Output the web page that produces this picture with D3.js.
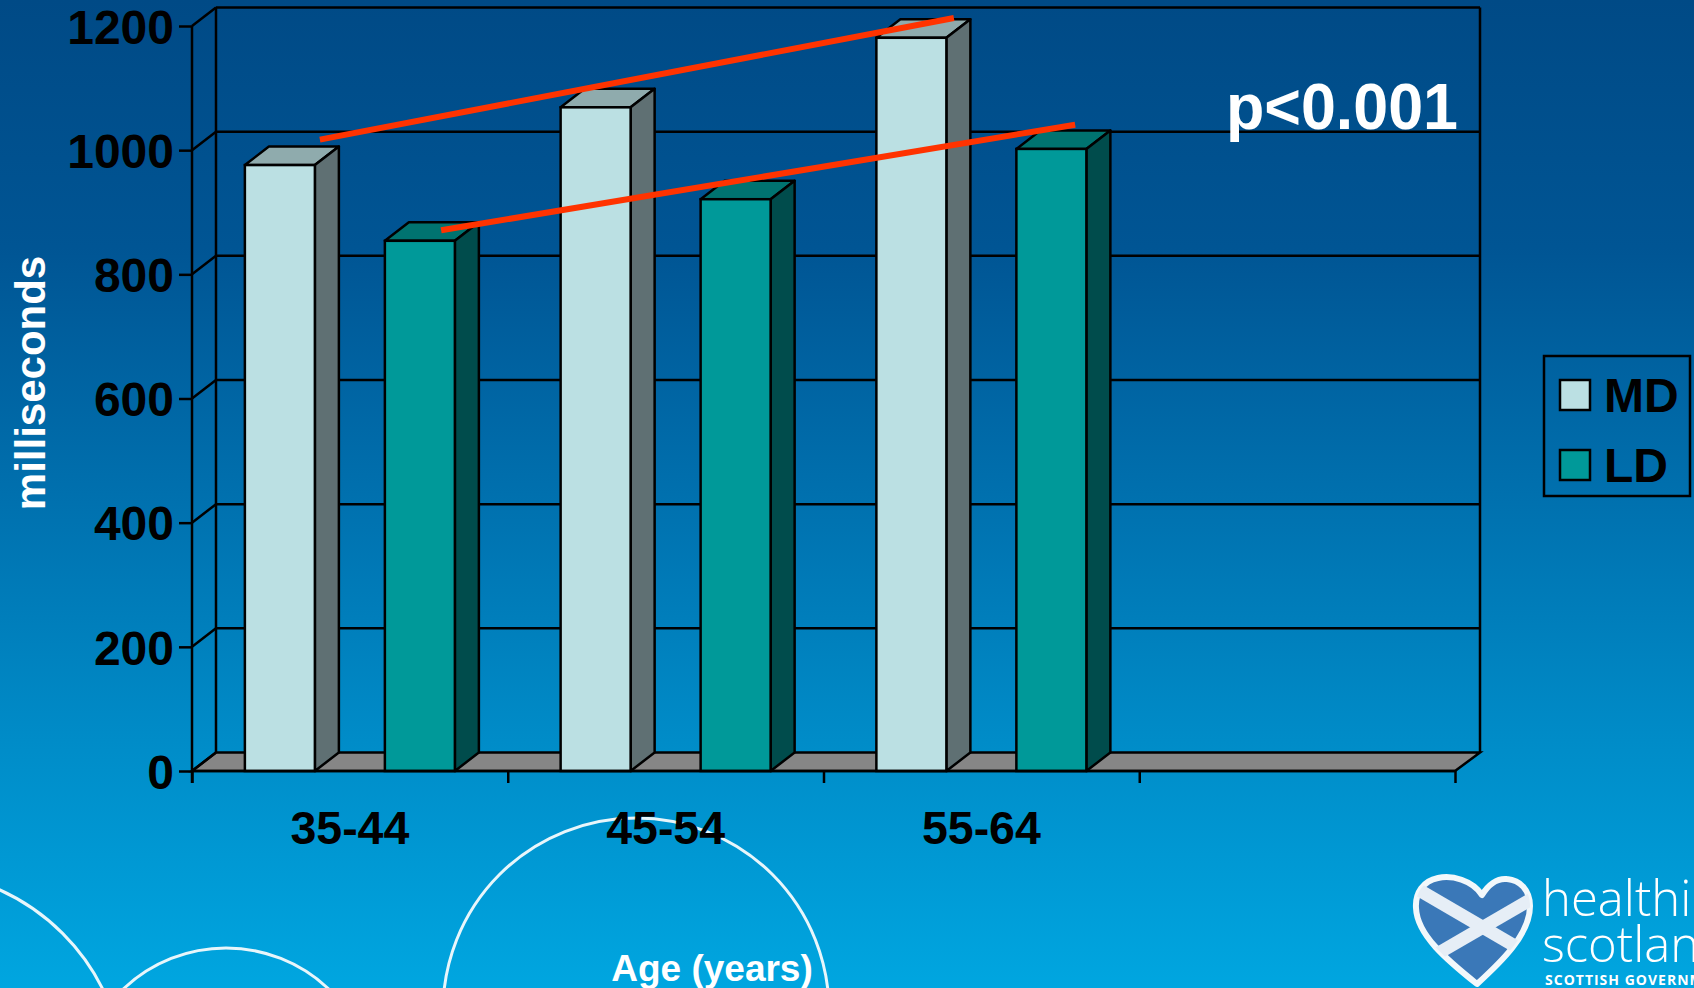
<!DOCTYPE html>
<html><head><meta charset="utf-8">
<script src="https://cdn.jsdelivr.net/npm/d3@7/dist/d3.min.js"></script>
<style>html,body{margin:0;padding:0;overflow:hidden;background:#0070ae}svg{display:block}
text{font-family:"Liberation Sans",Arial,sans-serif;font-weight:700}</style></head>
<body><svg id="c" width="1694" height="988"></svg>
<script>
const categories = ["35-44","45-54","55-64",""];
const seriesNames = ["MD","LD"];
const mdValues = [976,1069,1181];
const ldValues = [854,921,1002];
const yTicks = [0,200,400,600,800,1000,1200];
const trendMD = [[0.405,1017],[2.413,1213]];   // [category position, ms]
const trendLD = [[0.789,871],[2.797,1041]];
const bgStops = [[0,"#004a86"],[0.25,"#005594"],[0.5,"#0070ae"],[0.75,"#008cc8"],[1,"#00a6e0"]];
const seriesColors = {MD:{front:"#bbe0e3",top:"#8fabad",side:"#5f7073"},LD:{front:"#009999",top:"#007370",side:"#004c4c"}};

const W=1694,H=988,svg=d3.select("#c");
const dx=24,dy=18.5,x0=192,x1=1455,yBase=771,yTop=26;
const y=d3.scaleLinear().domain([0,1200]).range([yBase,yTop]);
const xBand=d3.scaleBand().domain(categories).range([x0,x1]);
const xPos=d3.scaleLinear().domain([0,categories.length]).range([x0,x1]);
const xSeries=d3.scaleBand().domain(seriesNames).range([0,xBand.bandwidth()]).paddingInner(.5).paddingOuter(.3777);
const SW=2.5;

// background
const defs=svg.append("defs");
const g=defs.append("linearGradient").attr("id","bg").attr("x1",0).attr("x2",0).attr("y1",0).attr("y2",1);
bgStops.forEach(s=>g.append("stop").attr("offset",s[0]).attr("stop-color",s[1]));
svg.append("rect").attr("width",W).attr("height",H).attr("fill","url(#bg)");

// decorative circles
[[636,1011,193],[226,1097,149],[-88,1084,213]].forEach(c=>svg.append("circle")
  .attr("cx",c[0]).attr("cy",c[1]).attr("r",c[2]).attr("fill","none").attr("stroke","#e8f6fb").attr("stroke-width",3));

// 3D frame
const line=(a,b,c,d,w=SW)=>svg.append("line").attr("x1",a).attr("y1",b).attr("x2",c).attr("y2",d).attr("stroke","#000").attr("stroke-width",w);
svg.append("path").attr("d",`M${x0},${yBase}L${x0+dx},${yBase-dy}L${x1+dx+1},${yBase-dy}L${x1},${yBase}Z`)
  .attr("fill","#868686").attr("stroke","#000").attr("stroke-width",SW);
yTicks.forEach(t=>{
  line(x0,y(t),x0+dx,y(t)-dy);
  if(t>0) line(x0+dx,y(t)-dy,x1+dx+1,y(t)-dy);
});
line(x0+dx,yTop-dy,x0+dx,yBase-dy);
line(x1+dx+1,yTop-dy,x1+dx+1,yBase-dy);

// bars
const rows=[];
categories.slice(0,3).forEach((c,i)=>{
  rows.push({c,s:"MD",v:mdValues[i]});
  rows.push({c,s:"LD",v:ldValues[i]});
});
const bars=svg.selectAll("g.bar").data(rows).enter().append("g").attr("class","bar");
const bw=xSeries.bandwidth();
const X=d=>xBand(d.c)+xSeries(d.s);
bars.append("path").attr("d",d=>`M${X(d)},${y(d.v)}L${X(d)+dx},${y(d.v)-dy}L${X(d)+bw+dx},${y(d.v)-dy}L${X(d)+bw},${y(d.v)}Z`)
  .attr("fill",d=>seriesColors[d.s].top).attr("stroke","#000").attr("stroke-width",SW).attr("stroke-linejoin","round");
bars.append("path").attr("d",d=>`M${X(d)+bw},${y(d.v)}L${X(d)+bw+dx},${y(d.v)-dy}L${X(d)+bw+dx},${y(0)-dy}L${X(d)+bw},${y(0)}Z`)
  .attr("fill",d=>seriesColors[d.s].side).attr("stroke","#000").attr("stroke-width",SW).attr("stroke-linejoin","round");
bars.append("rect").attr("x",X).attr("y",d=>y(d.v)).attr("width",bw).attr("height",d=>y(0)-y(d.v))
  .attr("fill",d=>seriesColors[d.s].front).attr("stroke","#000").attr("stroke-width",SW);

// axes
const ya=svg.append("g").attr("transform",`translate(${x0},0)`)
  .call(d3.axisLeft(y).tickValues(yTicks).tickFormat(d3.format("d")).tickSize(13).tickPadding(5));
ya.selectAll("path").attr("d",`M0,${yTop}V${yBase+12}`).attr("stroke","#000").attr("stroke-width",SW);
ya.selectAll("line").attr("stroke","#000").attr("stroke-width",SW);
ya.selectAll("text").attr("font-size",48).attr("dy","0.36em").attr("fill","#000").attr("font-family",null);

const xt=svg.append("g").attr("transform",`translate(0,${yBase})`)
  .call(d3.axisBottom(xPos).tickValues(d3.range(categories.length+1)).tickFormat("").tickSize(12));
xt.selectAll("path").attr("d",`M${x0},0H${x1}`).attr("stroke","#000").attr("stroke-width",SW);
xt.selectAll("line").attr("stroke","#000").attr("stroke-width",SW);
const xl=svg.append("g").attr("transform",`translate(0,${yBase})`)
  .call(d3.axisBottom(xBand).tickSize(0).tickPadding(40));
xl.select("path").remove();
xl.selectAll("text").attr("font-size",46.5).attr("fill","#000").attr("font-family",null).attr("dy","0.71em");

// trend lines
const ln=d3.line().x(d=>xPos(d[0])).y(d=>y(d[1]));
[trendMD,trendLD].forEach(t=>svg.append("path").attr("d",ln(t)).attr("fill","none").attr("stroke","#ff3300").attr("stroke-width",6));

// texts
svg.append("text").attr("transform","translate(44.5,383) rotate(-90)").attr("text-anchor","middle").attr("font-size",42).attr("fill","#fff").text("milliseconds");
svg.append("text").attr("x",712).attr("y",981).attr("text-anchor","middle").attr("font-size",37).attr("fill","#fff").text("Age (years)");
svg.append("text").attr("x",1226).attr("y",128.5).attr("font-size",65).attr("textLength",232).attr("lengthAdjust","spacingAndGlyphs").attr("fill","#fff").text("p<0.001");

// legend
const lg=svg.append("g");
lg.append("rect").attr("x",1544).attr("y",356).attr("width",146).attr("height",140).attr("fill","none").attr("stroke","#000").attr("stroke-width",SW);
seriesNames.forEach((s,i)=>{
  lg.append("rect").attr("x",1560).attr("y",380+i*70).attr("width",30).attr("height",30).attr("fill",seriesColors[s].front).attr("stroke","#000").attr("stroke-width",SW);
  lg.append("text").attr("x",1604).attr("y",412+i*70).attr("font-size",48).attr("fill","#000").text(s);
});

// logo
const heart="M1482,895 C1472,880 1452,875 1438,878 C1423,881 1415,893 1416,908 C1417,935 1447,960 1477,984 C1500,963 1530,935 1530,906 C1530,890 1520,880 1507,879 C1497,878 1488,885 1482,895Z";
defs.append("clipPath").attr("id","hc").append("path").attr("d",heart);
svg.append("path").attr("d",heart).attr("fill","#3a78b8").attr("stroke","#f2f8fb").attr("stroke-width",6).attr("stroke-linejoin","round");
const fl=svg.append("g").attr("clip-path","url(#hc)");
fl.append("path").attr("d","M1405,882L1525,952").attr("stroke","#e6eef6").attr("stroke-width",13);
fl.append("path").attr("d","M1535,897L1430,958").attr("stroke","#e6eef6").attr("stroke-width",13);
const lt=(t,x,yy,fs,w,extra)=>svg.append("text").attr("x",x).attr("y",yy).attr("font-size",fs).attr("fill","#fff")
  .style("font-family","'Open Sans'").style("font-weight",w).style("letter-spacing",extra||0).text(t);
lt("healthier",1542,916,49,300);
lt("scotland",1542,962,49,300);
lt("SCOTTISH GOVERNMENT",1545,985,14,700,"1px");
</script></body></html>
